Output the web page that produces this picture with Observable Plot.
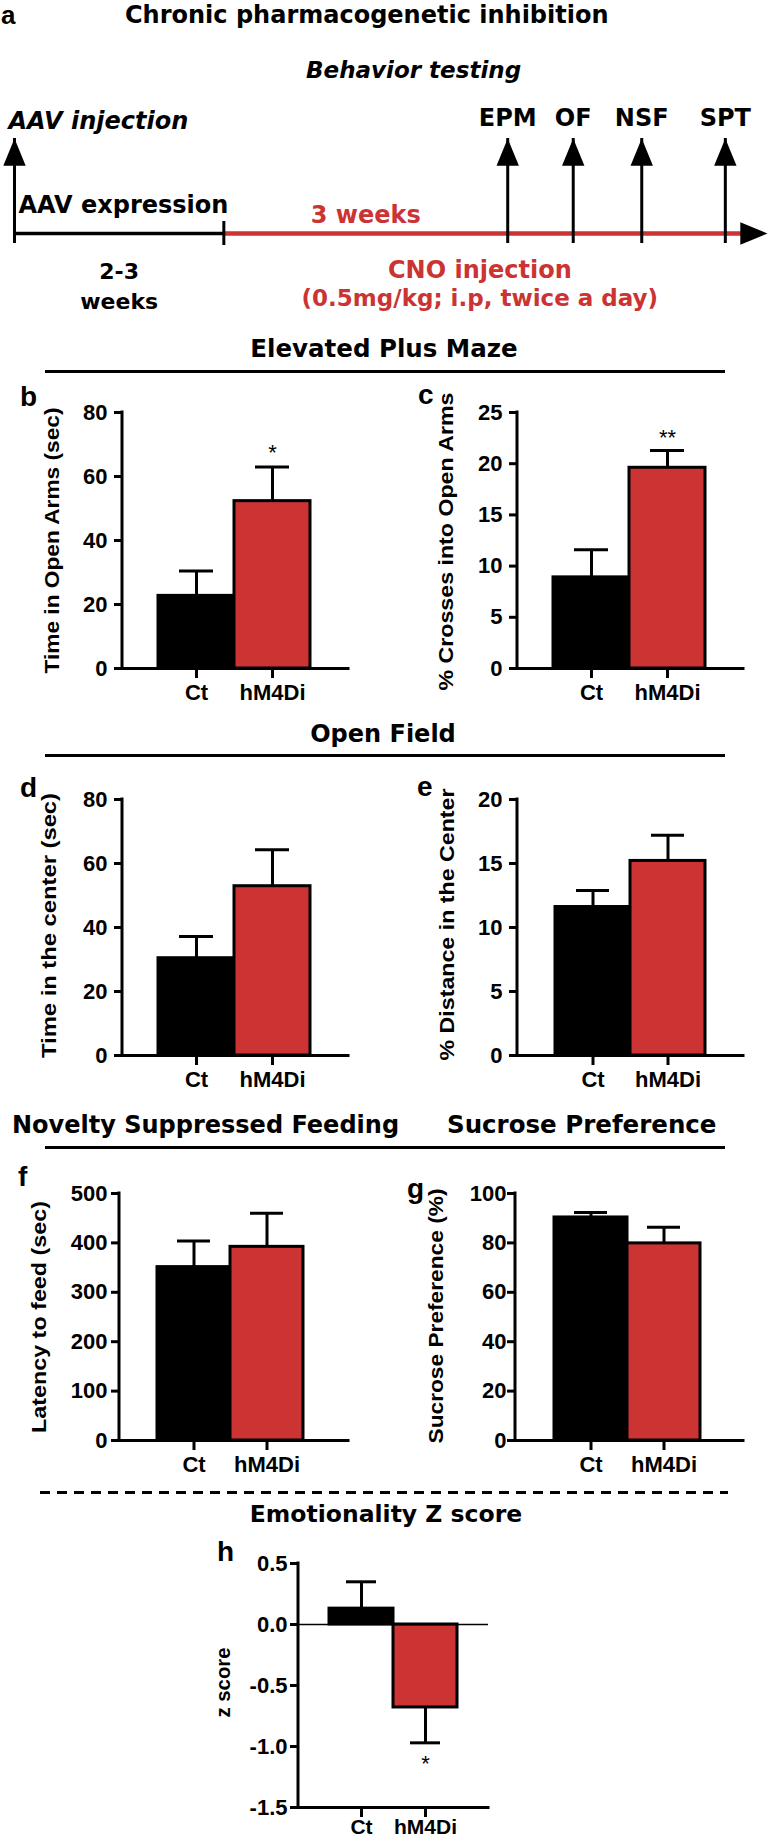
<!DOCTYPE html>
<html><head><meta charset="utf-8">
<script src="https://cdn.jsdelivr.net/npm/d3@7"></script>
<script src="https://cdn.jsdelivr.net/npm/@observablehq/plot@0.6"></script>
<style>
body{margin:0;background:#fff;}
#fig{position:relative;width:768px;height:1841px;overflow:hidden;background:#fff;}
#fig svg{position:absolute;overflow:visible;}
.lbl{position:absolute;white-space:nowrap;line-height:1;}
.rule{position:absolute;background:#000;}
</style></head><body><div id="fig"></div>
<script>
// ---------------- data ----------------
const groups = ["Ct", "hM4Di"];
const groupColors = ["#000000", "#cc3333"];

const epmTimeMean = [22.7, 52.3];
const epmTimeSem = [7.8, 10.7];
const epmTimeSig = ["", "*"];
const epmTimeTicks = [0, 20, 40, 60, 80];

const epmCrossMean = [8.9, 19.6];
const epmCrossSem = [2.7, 1.7];
const epmCrossSig = ["", "**"];
const epmCrossTicks = [0, 5, 10, 15, 20, 25];

const ofTimeMean = [30.4, 52.9];
const ofTimeSem = [6.8, 11.4];
const ofTimeTicks = [0, 20, 40, 60, 80];

const ofDistMean = [11.6, 15.2];
const ofDistSem = [1.3, 2.0];
const ofDistTicks = [0, 5, 10, 15, 20];

const nsfMean = [351, 392];
const nsfSem = [53, 68];
const nsfTicks = [0, 100, 200, 300, 400, 500];

const sptMean = [90.3, 79.8];
const sptSem = [2.0, 6.5];
const sptTicks = [0, 20, 40, 60, 80, 100];

const zMean = [0.13, -0.68];
const zSem = [0.22, 0.29];
const zSig = ["", "*"];
const zTicks = [0.5, 0, -0.5, -1, -1.5];

// schematic timeline (arbitrary units: 0 = AAV injection, 100 = arrow tip)
const timelineStart = 0;
const cnoStart = 27.8;
const timelineEnd = 100;
const testLabels = ["EPM", "OF", "NSF", "SPT"];
const testPos = [65.5, 74.2, 83.3, 94.4];
const behaviorLabelPos = 53;
const cnoLabelPos = 61.8;

// ---------------- style ----------------
const RED = "#cc3333";
const DJ = "'DejaVu Sans', Verdana, sans-serif";
const AX = "'Liberation Sans', Arial, Helvetica, sans-serif";
const fig = document.getElementById("fig");

function label(text, o) {
  const el = document.createElement("div");
  el.className = "lbl";
  el.textContent = text;
  const size = o.size;
  el.style.fontFamily = o.family || DJ;
  el.style.fontSize = size + "px";
  el.style.fontWeight = o.weight || "bold";
  el.style.fontStyle = o.style || "normal";
  el.style.color = o.color || "#000";
  el.style.top = (o.baseline - 0.846 * size) + "px";
  if (o.align === "center") {
    el.style.left = (o.x - 400) + "px"; el.style.width = "800px"; el.style.textAlign = "center";
  } else {
    el.style.left = o.x + "px";
  }
  fig.appendChild(el);
}
function hline(x1, x2, y, dashed) {
  const el = document.createElement("div");
  el.className = "rule";
  el.style.left = x1 + "px"; el.style.width = (x2 - x1) + "px";
  el.style.top = (y - 1.5) + "px"; el.style.height = "3px";
  if (dashed) el.style.background = "repeating-linear-gradient(to right,#000 0 10px,transparent 10px 17px)";
  fig.appendChild(el);
}
function place(svg, left, top) {
  svg.style.position = "absolute";
  svg.style.left = left + "px";
  svg.style.top = top + "px";
  fig.appendChild(svg);
}

// ---------------- panel a: timeline ----------------
label("a", {x: 1, baseline: 24, size: 26, family: AX});
label("Chronic pharmacogenetic inhibition", {x: 125, baseline: 23, size: 24});

const tests = testLabels.map((label, i) => ({label, pos: testPos[i]}));
const arrowsUp = [{pos: timelineStart}, ...tests];
const arrowHead = {
  draw(ctx, size) {
    const r = Math.sqrt(size / Math.PI);
    const w = r * 1.4, h = r * 3.4;
    ctx.moveTo(0, 0); ctx.lineTo(w, h); ctx.lineTo(-w, h); ctx.closePath();
  }
};
const timeline = Plot.plot({
  width: 768, height: 320,
  marginLeft: 14, marginRight: 1, marginTop: 138, marginBottom: 87,
  style: {background: "transparent", overflow: "visible"},
  x: {domain: [timelineStart, timelineEnd], axis: null},
  y: {domain: [0, 1], axis: null},
  marks: [
    Plot.ruleY([0], {x1: timelineStart, x2: cnoStart, stroke: "black", strokeWidth: 3.5}),
    Plot.ruleY([0], {x1: cnoStart, x2: timelineEnd, insetRight: 20, stroke: RED, strokeWidth: 4.5}),
    Plot.ruleX([cnoStart], {y1: 0, y2: 0, insetTop: -12, insetBottom: -12, stroke: "black", strokeWidth: 3}),
    Plot.ruleX(arrowsUp, {x: "pos", y1: 0, y2: 1, insetTop: 10, stroke: "black", strokeWidth: 3}),
    Plot.dot(arrowsUp, {x: "pos", y: 1, symbol: arrowHead, r: 8, fill: "black", stroke: "none"}),
    Plot.dot([timelineEnd], {x: d => d, y: 0, symbol: arrowHead, r: 8, rotate: 90, fill: "black", stroke: "none"}),
    Plot.text(["Behavior testing"], {x: behaviorLabelPos, y: 1, dy: -61, lineAnchor: "bottom", fontFamily: DJ, fontWeight: "bold", fontStyle: "italic", fontSize: 23}),
    Plot.text(["AAV injection"], {x: timelineStart, y: 1, dx: -6, dy: -10, textAnchor: "start", lineAnchor: "bottom", fontFamily: DJ, fontWeight: "bold", fontStyle: "italic", fontSize: 24}),
    Plot.text(tests, {x: "pos", y: 1, text: "label", dy: -13, lineAnchor: "bottom", fontFamily: DJ, fontWeight: "bold", fontSize: 24}),
    Plot.text(["AAV expression"], {x: timelineStart, y: 0, dx: 4, dy: -21, textAnchor: "start", lineAnchor: "bottom", fontFamily: DJ, fontWeight: "bold", fontSize: 24}),
    Plot.text(["3 weeks"], {x: (cnoStart + testPos[0]) / 2, y: 0, dy: -11, lineAnchor: "bottom", fill: RED, fontFamily: DJ, fontWeight: "bold", fontSize: 24}),
    Plot.text(["2-3\nweeks"], {x: (timelineStart + cnoStart) / 2, y: 0, dy: 24, lineAnchor: "top", lineHeight: 1.36, fontFamily: DJ, fontWeight: "bold", fontSize: 22}),
    Plot.text(["CNO injection"], {x: cnoLabelPos, y: 0, dy: 44, lineAnchor: "bottom", fill: RED, fontFamily: DJ, fontWeight: "bold", fontSize: 24}),
    Plot.text(["(0.5mg/kg; i.p, twice a day)"], {x: cnoLabelPos, y: 0, dy: 72, lineAnchor: "bottom", fill: RED, fontFamily: DJ, fontWeight: "bold", fontSize: 23})
  ]
});
place(timeline, 0, 0);

// ---------------- section headers ----------------
label("Elevated Plus Maze", {x: 384, baseline: 358, size: 24.5, align: "center"});
hline(45, 725, 371);
label("Open Field", {x: 383, baseline: 742, size: 24, align: "center"});
hline(45, 725, 755);
label("Novelty Suppressed Feeding", {x: 12, baseline: 1133, size: 24});
label("Sucrose Preference", {x: 447, baseline: 1134, size: 24.5});
hline(45, 725, 1147);
hline(40, 728, 1492, true);
label("Emotionality Z score", {x: 386, baseline: 1523, size: 23.5, align: "center"});

// panel letters
label("b", {x: 20, baseline: 407, size: 28, family: AX});
label("c", {x: 418, baseline: 405, size: 28, family: AX});
label("d", {x: 20, baseline: 798, size: 28, family: AX});
label("e", {x: 417, baseline: 797, size: 28, family: AX});
label("f", {x: 18, baseline: 1187, size: 28, family: AX});
label("g", {x: 407, baseline: 1199, size: 28, family: AX});
label("h", {x: 217, baseline: 1562, size: 28, family: AX});

// ---------------- bar panels ----------------
function barPanel(cfg) {
  const data = groups.map((g, i) => ({group: g, mean: cfg.mean[i], sem: cfg.sem[i], sig: cfg.sig ? cfg.sig[i] : ""}));
  const tip = d => d.mean + Math.sign(d.mean) * d.sem;
  const axisLine = (index, scales, values, dims) => {
    const l = document.createElementNS("http://www.w3.org/2000/svg", "line");
    l.setAttribute("x1", dims.marginLeft);
    l.setAttribute("x2", dims.marginLeft);
    l.setAttribute("y1", dims.marginTop);
    l.setAttribute("y2", dims.height - dims.marginBottom);
    l.setAttribute("stroke", "black");
    l.setAttribute("stroke-width", 3);
    l.setAttribute("stroke-linecap", "square");
    return l;
  };
  const marks = [
    Plot.ruleX(data, {x: "group", y1: "mean", y2: tip, stroke: "black", strokeWidth: 3}),
    Plot.tickY(data, {x: "group", y: tip, stroke: "black", strokeWidth: 3, insetLeft: cfg.cap, insetRight: cfg.cap}),
    Plot.barY(data, {x: "group", y: "mean", fill: "group", stroke: "black", strokeWidth: 3, inset: 0}),
  ];
  if (cfg.zeroLine) marks.push(Plot.ruleY([0], {stroke: "black", strokeWidth: 1.5}));
  marks.push(
    Plot.ruleY([cfg.yd[0]], {stroke: "black", strokeWidth: 3, strokeLinecap: "square"}),
    axisLine,
    Plot.axisY({ticks: cfg.ticks, tickSize: 8, tickPadding: cfg.tp, strokeWidth: 3, fontSize: 22, fontWeight: "bold", fontFamily: AX, label: null, tickFormat: cfg.fmt}),
    Plot.axisX({tickSize: 10, tickPadding: cfg.xtp ?? 6, strokeWidth: 3, fontSize: cfg.xfs ?? 22, fontWeight: "bold", fontFamily: AX, label: null}),
    Plot.text(data.filter(d => d.sig), {x: "group", y: tip, text: "sig", dy: cfg.sigDy || 0, fontSize: 22, fontFamily: AX, fontWeight: "normal"}),
    Plot.text([cfg.ylabel], {frameAnchor: "left", rotate: -90, textAnchor: "start", dx: cfg.ldx, dy: cfg.ldy + cfg.llen / 2, fontSize: 21, fontWeight: "bold", fontFamily: AX})
  );
  const svg = Plot.plot({
    width: cfg.w, height: cfg.h,
    marginLeft: cfg.ml, marginRight: cfg.mr, marginTop: cfg.mt, marginBottom: cfg.mb,
    style: {fontFamily: AX, fontWeight: "bold", background: "transparent", overflow: "visible"},
    x: {domain: groups, range: cfg.xr, padding: 0},
    y: {domain: cfg.yd},
    color: {domain: groups, range: groupColors},
    marks
  });
  d3.select(svg).selectAll("text")
    .filter(function () { return this.textContent === cfg.ylabel; })
    .attr("textLength", cfg.llen)
    .attr("lengthAdjust", "spacingAndGlyphs");
  place(svg, cfg.left, cfg.top);
}

barPanel({mean: epmTimeMean, sem: epmTimeSem, sig: epmTimeSig, ticks: epmTimeTicks, yd: [0, 80],
  left: 0, top: 380, w: 380, h: 330, ml: 122, mr: 32, mt: 32, mb: 42, xr: [157, 310], tp: 7, cap: 21, sigDy: -14,
  ylabel: "Time in Open Arms (sec)", ldx: -70, ldy: 0, llen: 266});
barPanel({mean: epmCrossMean, sem: epmCrossSem, sig: epmCrossSig, ticks: epmCrossTicks, yd: [0, 25],
  left: 390, top: 380, w: 378, h: 330, ml: 127, mr: 25, mt: 32, mb: 42, xr: [163, 315], tp: 7, cap: 21, sigDy: -12,
  ylabel: "% Crosses into Open Arms", ldx: -71, ldy: 1, llen: 298});
barPanel({mean: ofTimeMean, sem: ofTimeSem, ticks: ofTimeTicks, yd: [0, 80],
  left: 0, top: 770, w: 380, h: 330, ml: 122, mr: 32, mt: 29, mb: 45, xr: [157, 310], tp: 7, cap: 21,
  ylabel: "Time in the center (sec)", ldx: -73, ldy: -2, llen: 265});
barPanel({mean: ofDistMean, sem: ofDistSem, ticks: ofDistTicks, yd: [0, 20],
  left: 390, top: 770, w: 378, h: 330, ml: 127, mr: 25, mt: 29, mb: 45, xr: [164, 315], tp: 7, cap: 21,
  ylabel: "% Distance in the Center", ldx: -70, ldy: -3, llen: 272});
barPanel({mean: nsfMean, sem: nsfSem, ticks: nsfTicks, yd: [0, 500],
  left: 0, top: 1160, w: 380, h: 330, ml: 119, mr: 32, mt: 33, mb: 50, xr: [157, 303], tp: 4, cap: 20,
  ylabel: "Latency to feed (sec)", ldx: -80, ldy: 0, llen: 232});
barPanel({mean: sptMean, sem: sptSem, ticks: sptTicks, yd: [0, 100],
  left: 390, top: 1160, w: 378, h: 330, ml: 125, mr: 25, mt: 33, mb: 50, xr: [164, 310], tp: 1, cap: 20,
  ylabel: "Sucrose Preference (%)", ldx: -79, ldy: -1, llen: 255});
barPanel({mean: zMean, sem: zSem, sig: zSig, ticks: zTicks, yd: [-1.5, 0.5], zeroLine: true, fmt: d => d.toFixed(1),
  left: 150, top: 1530, w: 400, h: 311, ml: 148, mr: 62, mt: 33, mb: 34, xr: [178, 307], tp: 3, cap: 17, sigDy: 21,
  xtp: 2, xfs: 21,
  ylabel: "z score", ldx: -75, ldy: -3, llen: 70});
</script>
</body></html>
